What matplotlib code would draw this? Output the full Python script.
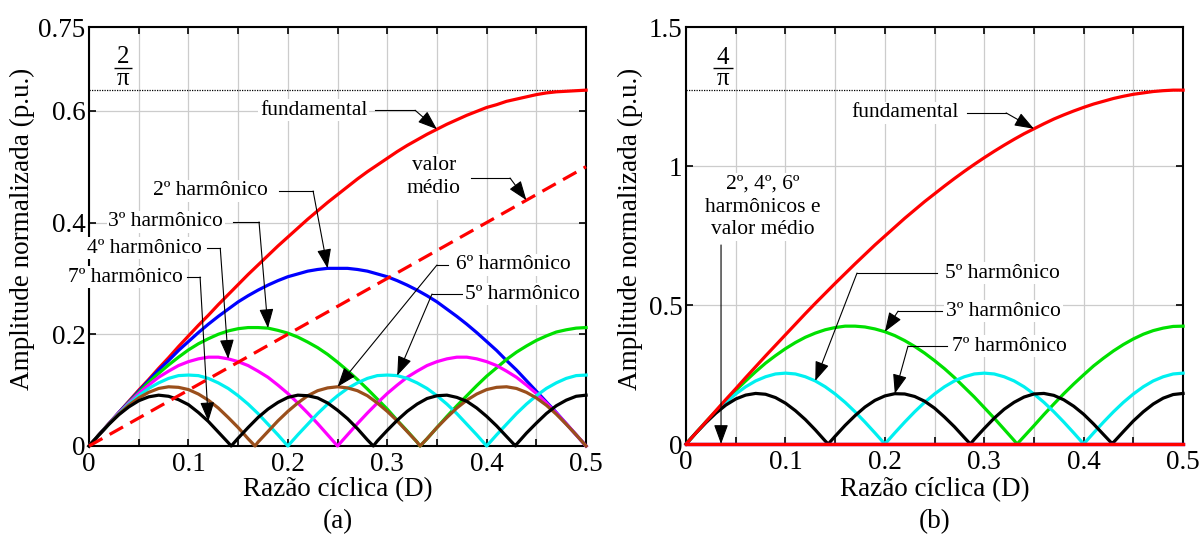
import numpy as np
import matplotlib
matplotlib.use("Agg")
import matplotlib.pyplot as plt
from matplotlib.ticker import MultipleLocator, FixedLocator

plt.rcParams['font.family'] = ['Liberation Serif', 'DejaVu Serif']
plt.rcParams['mathtext.fontset'] = 'stix'

# Duty ratio grid
D = [0.00, 0.01, 0.02, 0.03, 0.04, 0.05, 0.06, 0.07, 0.08, 0.09,
     0.10, 0.11, 0.12, 0.13, 0.14, 0.15, 0.16, 0.17, 0.18, 0.19,
     0.20, 0.21, 0.22, 0.23, 0.24, 0.25, 0.26, 0.27, 0.28, 0.29,
     0.30, 0.31, 0.32, 0.33, 0.34, 0.35, 0.36, 0.37, 0.38, 0.39,
     0.40, 0.41, 0.42, 0.43, 0.44, 0.45, 0.46, 0.47, 0.48, 0.49, 0.50]

# ---- (a) unipolar pulse train ----
FUND_A = [0.000, 0.020, 0.040, 0.060, 0.080, 0.100, 0.119, 0.139, 0.158, 0.178,
          0.197, 0.216, 0.234, 0.253, 0.271, 0.289, 0.307, 0.324, 0.341, 0.358,
          0.374, 0.390, 0.406, 0.421, 0.436, 0.450, 0.464, 0.478, 0.491, 0.503,
          0.515, 0.527, 0.538, 0.548, 0.558, 0.567, 0.576, 0.584, 0.592, 0.599,
          0.606, 0.611, 0.617, 0.621, 0.625, 0.629, 0.632, 0.634, 0.635, 0.636, 0.637]
H2_A = [0.000, 0.020, 0.040, 0.060, 0.079, 0.098, 0.117, 0.136, 0.153, 0.171,
        0.187, 0.203, 0.218, 0.232, 0.245, 0.258, 0.269, 0.279, 0.288, 0.296,
        0.303, 0.308, 0.313, 0.316, 0.318, 0.318, 0.318, 0.316, 0.313, 0.308,
        0.303, 0.296, 0.288, 0.279, 0.269, 0.258, 0.245, 0.232, 0.218, 0.203,
        0.187, 0.171, 0.153, 0.136, 0.117, 0.098, 0.079, 0.060, 0.040, 0.020, 0.000]
H3_A = [0.000, 0.020, 0.040, 0.059, 0.078, 0.096, 0.114, 0.130, 0.145, 0.159,
        0.172, 0.183, 0.192, 0.200, 0.206, 0.210, 0.212, 0.212, 0.211, 0.207,
        0.202, 0.195, 0.186, 0.176, 0.164, 0.150, 0.135, 0.119, 0.102, 0.084,
        0.066, 0.046, 0.027, 0.007, 0.013, 0.033, 0.053, 0.072, 0.090, 0.108,
        0.125, 0.140, 0.155, 0.168, 0.179, 0.189, 0.197, 0.204, 0.208, 0.211, 0.212]
H4_A = [0.000, 0.020, 0.040, 0.059, 0.077, 0.094, 0.109, 0.123, 0.134, 0.144,
        0.151, 0.156, 0.159, 0.159, 0.156, 0.151, 0.144, 0.134, 0.123, 0.109,
        0.094, 0.077, 0.059, 0.040, 0.020, 0.000, 0.020, 0.040, 0.059, 0.077,
        0.094, 0.109, 0.123, 0.134, 0.144, 0.151, 0.156, 0.159, 0.159, 0.156,
        0.151, 0.144, 0.134, 0.123, 0.109, 0.094, 0.077, 0.059, 0.040, 0.020, 0.000]
H5_A = [0.000, 0.020, 0.039, 0.058, 0.075, 0.090, 0.103, 0.113, 0.121, 0.126,
        0.127, 0.126, 0.121, 0.113, 0.103, 0.090, 0.075, 0.058, 0.039, 0.020,
        0.000, 0.020, 0.039, 0.058, 0.075, 0.090, 0.103, 0.113, 0.121, 0.126,
        0.127, 0.126, 0.121, 0.113, 0.103, 0.090, 0.075, 0.058, 0.039, 0.020,
        0.000, 0.020, 0.039, 0.058, 0.075, 0.090, 0.103, 0.113, 0.121, 0.126, 0.127]
H6_A = [0.000, 0.020, 0.039, 0.057, 0.073, 0.086, 0.096, 0.103, 0.106, 0.105,
        0.101, 0.093, 0.082, 0.068, 0.051, 0.033, 0.013, 0.007, 0.026, 0.045,
        0.062, 0.077, 0.090, 0.099, 0.104, 0.106, 0.104, 0.099, 0.090, 0.077,
        0.062, 0.045, 0.026, 0.007, 0.013, 0.033, 0.051, 0.068, 0.082, 0.093,
        0.101, 0.105, 0.106, 0.103, 0.096, 0.086, 0.073, 0.057, 0.039, 0.020, 0.000]
H7_A = [0.000, 0.020, 0.039, 0.056, 0.070, 0.081, 0.088, 0.091, 0.089, 0.083,
        0.074, 0.060, 0.044, 0.025, 0.006, 0.014, 0.033, 0.051, 0.066, 0.078,
        0.087, 0.091, 0.090, 0.086, 0.077, 0.064, 0.049, 0.031, 0.011, 0.009,
        0.028, 0.046, 0.062, 0.075, 0.085, 0.090, 0.091, 0.087, 0.080, 0.068,
        0.053, 0.036, 0.017, 0.003, 0.023, 0.041, 0.058, 0.072, 0.082, 0.089, 0.091]
MEAN_D = [0.0, 0.5]
MEAN_A = [0.0, 0.5]
LEVEL_A = 0.6366  # 2/pi

# Duty ratios where the harmonic amplitudes touch zero
ZEROS_H3 = [0.333]
ZEROS_H6 = [0.167, 0.333]
ZEROS_H7 = [0.143, 0.286, 0.429]

# ---- (b) bipolar pulse train ----
FUND_B = [0.000, 0.040, 0.080, 0.120, 0.160, 0.199, 0.239, 0.278, 0.317, 0.355,
          0.393, 0.431, 0.469, 0.506, 0.542, 0.578, 0.613, 0.648, 0.682, 0.716,
          0.748, 0.780, 0.812, 0.842, 0.872, 0.900, 0.928, 0.955, 0.981, 1.006,
          1.030, 1.053, 1.075, 1.096, 1.116, 1.134, 1.152, 1.169, 1.184, 1.198,
          1.211, 1.223, 1.233, 1.243, 1.251, 1.258, 1.263, 1.268, 1.271, 1.273, 1.273]
H3_B = [0.000, 0.040, 0.080, 0.118, 0.156, 0.193, 0.227, 0.260, 0.291, 0.318,
        0.343, 0.365, 0.384, 0.399, 0.411, 0.419, 0.424, 0.424, 0.421, 0.414,
        0.404, 0.390, 0.372, 0.351, 0.327, 0.300, 0.271, 0.239, 0.204, 0.169,
        0.131, 0.093, 0.053, 0.013, 0.027, 0.066, 0.106, 0.144, 0.181, 0.216,
        0.249, 0.281, 0.309, 0.335, 0.358, 0.378, 0.395, 0.408, 0.417, 0.423, 0.424]
H5_B = [0.000, 0.040, 0.079, 0.116, 0.150, 0.180, 0.206, 0.227, 0.242, 0.252,
        0.255, 0.252, 0.242, 0.227, 0.206, 0.180, 0.150, 0.116, 0.079, 0.040,
        0.000, 0.040, 0.079, 0.116, 0.150, 0.180, 0.206, 0.227, 0.242, 0.252,
        0.255, 0.252, 0.242, 0.227, 0.206, 0.180, 0.150, 0.116, 0.079, 0.040,
        0.000, 0.040, 0.079, 0.116, 0.150, 0.180, 0.206, 0.227, 0.242, 0.252, 0.255]
H7_B = [0.000, 0.040, 0.077, 0.111, 0.140, 0.162, 0.176, 0.182, 0.179, 0.167,
        0.147, 0.120, 0.088, 0.051, 0.011, 0.028, 0.067, 0.102, 0.133, 0.157,
        0.173, 0.181, 0.180, 0.171, 0.154, 0.129, 0.097, 0.062, 0.023, 0.017,
        0.056, 0.093, 0.125, 0.150, 0.169, 0.180, 0.182, 0.175, 0.159, 0.136,
        0.107, 0.072, 0.034, 0.006, 0.045, 0.083, 0.116, 0.144, 0.165, 0.178, 0.182]
EVEN_D = [0.0, 0.5]
EVEN_B = [0.0, 0.0]   # 2nd, 4th, 6th harmonics and mean value
LEVEL_B = 1.2732  # 4/pi

X_TICKS = [0.0, 0.1, 0.2, 0.3, 0.4, 0.5]
X_TICK_LABELS = ['0', '0.1', '0.2', '0.3', '0.4', '0.5']
Y_TICKS_A = [0.0, 0.2, 0.4, 0.6, 0.75]
Y_TICK_LABELS_A = ['0', '0.2', '0.4', '0.6', '0.75']
Y_TICKS_B = [0.0, 0.5, 1.0, 1.5]
Y_TICK_LABELS_B = ['0', '0.5', '1', '1.5']

RED = '#ff0000'
BLUE = '#0000ff'
GREEN = '#00e000'
MAGENTA = '#ff00ff'
CYAN = '#00f0f0'
BROWN = '#9a4f1c'
BLACK = '#000000'

LW = 2.3
TICK_FS = 19.5
NOTE_FS = 15.5


def with_zeros(d, v, zeros):
    x = np.concatenate([np.asarray(d, float), np.asarray(zeros, float)])
    y = np.concatenate([np.asarray(v, float), np.zeros(len(zeros))])
    order = np.argsort(x, kind='stable')
    return x[order], y[order]


def value_at(d, v, x):
    return float(np.asarray(v)[list(np.round(d, 2)).index(round(x, 2))])


def style_axes(ax, yticks, ylabels, ymax):
    ax.set_xlim(0, 0.5)
    ax.set_ylim(0, ymax)
    ax.xaxis.set_major_locator(FixedLocator(X_TICKS))
    ax.set_xticklabels(X_TICK_LABELS)
    ax.xaxis.set_minor_locator(MultipleLocator(0.05))
    ax.yaxis.set_major_locator(FixedLocator(yticks))
    ax.set_yticklabels(ylabels)
    ax.set_axisbelow(True)
    ax.grid(True, which='both', axis='x', color='#cccccc', lw=0.9)
    ax.grid(True, which='major', axis='y', color='#cccccc', lw=0.9)
    ax.tick_params(which='both', direction='in', top=True, right=True,
                   length=5, width=1.2, labelsize=TICK_FS)
    ax.tick_params(axis='y', pad=2.5)
    ax.tick_params(axis='x', pad=4)
    for sp in ax.spines.values():
        sp.set_linewidth(1.5)


def fraction(ax, num, xc, y_num, y_bar, y_den, half_w):
    """Stacked fraction 'num / pi' written with a plain bar."""
    ax.text(xc, y_num, num, ha='center', va='center', fontsize=18, zorder=6)
    ax.text(xc, y_den, 'π', ha='center', va='center', fontsize=18, zorder=6)
    ax.plot([xc - half_w, xc + half_w], [y_bar, y_bar], color='k', lw=1.0,
            solid_capstyle='butt', zorder=6)


def note(ax, text, pos, ha, start, corner, tip, linespacing=1.15):
    ax.text(pos[0], pos[1], text, ha=ha, va='center', fontsize=NOTE_FS,
            linespacing=linespacing, zorder=8, clip_on=False,
            bbox=dict(fc='white', ec='none', pad=1.2))
    if start is not None:
        ax.plot([start[0], corner[0]], [start[1], corner[1]], color='k',
                lw=0.8, zorder=7, clip_on=False)
    ax.annotate('', xy=tip, xytext=corner, zorder=7,
                arrowprops=dict(arrowstyle='-|>,head_length=0.6,head_width=0.22',
                                color='k', lw=0.8, shrinkA=0, shrinkB=0,
                                mutation_scale=20))


fig = plt.figure(figsize=(12, 5.34), dpi=100)
ax_a = fig.add_axes([0.0742, 0.1648, 0.4142, 0.7846])
ax_b = fig.add_axes([0.5717, 0.1685, 0.4142, 0.7809])

# ----- panel (a) -----
style_axes(ax_a, Y_TICKS_A, Y_TICK_LABELS_A, 0.75)
ax_a.hlines(LEVEL_A, 0, 0.5, colors='k', linestyles=(0, (1, 1)), lw=0.9, zorder=3)
ax_a.plot(D, FUND_A, color=RED, lw=LW, zorder=4, clip_on=False)
ax_a.plot(D, H2_A, color=BLUE, lw=LW, zorder=4, clip_on=False)
ax_a.plot(*with_zeros(D, H3_A, ZEROS_H3), color=GREEN, lw=LW, zorder=4, clip_on=False)
ax_a.plot(D, H4_A, color=MAGENTA, lw=LW, zorder=4, clip_on=False)
ax_a.plot(D, H5_A, color=CYAN, lw=LW, zorder=4, clip_on=False)
ax_a.plot(*with_zeros(D, H6_A, ZEROS_H6), color=BROWN, lw=LW, zorder=4, clip_on=False)
ax_a.plot(*with_zeros(D, H7_A, ZEROS_H7), color=BLACK, lw=LW, zorder=4, clip_on=False)
mean_line, = ax_a.plot(MEAN_D, MEAN_A, color=RED, lw=LW, zorder=5, clip_on=False)
mean_line.set_dashes([4.8, 2.6])

fraction(ax_a, '2', 0.0342, 0.697, 0.677, 0.657, 0.0095)

note(ax_a, 'fundamental', (0.280, 0.601), 'right',
     (0.288, 0.601), (0.328, 0.601), (0.35, value_at(D, FUND_A, 0.35)))
note(ax_a, 'valor\nmédio', (0.347, 0.4815), 'center',
     (0.384, 0.4797), (0.4235, 0.4797), (0.44, float(np.interp(0.44, MEAN_D, MEAN_A))),
     linespacing=1.3)
note(ax_a, '2º harmônico', (0.180, 0.4565), 'right',
     (0.191, 0.4565), (0.2254, 0.4565), (0.24, value_at(D, H2_A, 0.24)))
note(ax_a, '3º harmônico', (0.135, 0.401), 'right',
     (0.145, 0.401), (0.171, 0.401), (0.18, value_at(D, H3_A, 0.18)))
note(ax_a, '4º harmônico', (0.1137, 0.354), 'right',
     (0.119, 0.354), (0.132, 0.354), (0.14, value_at(D, H4_A, 0.14)))
note(ax_a, '7º harmônico', (0.0946, 0.3025), 'right',
     (0.0986, 0.3025), (0.1117, 0.3025), (0.12, value_at(D, H7_A, 0.12)))
note(ax_a, '6º harmônico', (0.3692, 0.324), 'left',
     (0.361, 0.324), (0.350, 0.324), (0.25, value_at(D, H6_A, 0.25)))
note(ax_a, '5º harmônico', (0.378, 0.272), 'left',
     (0.375, 0.272), (0.345, 0.272), (0.31, value_at(D, H5_A, 0.31)))

# ----- panel (b) -----
style_axes(ax_b, Y_TICKS_B, Y_TICK_LABELS_B, 1.5)
ax_b.hlines(LEVEL_B, 0, 0.5, colors='k', linestyles=(0, (1, 1)), lw=0.9, zorder=3)
ax_b.plot(*with_zeros(D, H3_B, ZEROS_H3), color=GREEN, lw=LW, zorder=4, clip_on=False)
ax_b.plot(D, H5_B, color=CYAN, lw=LW, zorder=4, clip_on=False)
ax_b.plot(*with_zeros(D, H7_B, ZEROS_H7), color=BLACK, lw=LW, zorder=4, clip_on=False)
ax_b.plot(D, FUND_B, color=RED, lw=LW, zorder=5, clip_on=False)
for c in (BLUE, MAGENTA, BROWN):
    ax_b.plot(EVEN_D, EVEN_B, color=c, lw=LW, zorder=5, clip_on=False)
ax_b.plot(EVEN_D, EVEN_B, color=RED, lw=LW, zorder=6, clip_on=False)

fraction(ax_b, '4', 0.0372, 1.390, 1.353, 1.312, 0.0100)

note(ax_b, 'fundamental', (0.2746, 1.191), 'right',
     (0.283, 1.191), (0.322, 1.191), (0.35, value_at(D, FUND_B, 0.35)))
note(ax_b, '2º, 4º, 6º\nharmônicos e\nvalor médio', (0.0775, 0.8525), 'center',
     None, (0.0352, 0.716), (0.0352, float(np.interp(0.0352, EVEN_D, EVEN_B))),
     linespacing=1.25)
note(ax_b, '5º harmônico', (0.2606, 0.615), 'left',
     (0.2525, 0.615), (0.172, 0.615), (0.13, value_at(D, H5_B, 0.13)))
note(ax_b, '3º harmônico', (0.2616, 0.478), 'left',
     (0.2575, 0.478), (0.2133, 0.478), (0.20, value_at(D, H3_B, 0.20)))
note(ax_b, '7º harmônico', (0.2676, 0.3525), 'left',
     (0.2626, 0.3525), (0.2233, 0.3525), (0.21, value_at(D, H7_B, 0.21)))

# axis titles and panel captions
for cx, ylx, tag in ((0.2813, 0.019, '(a)'), (0.7788, 0.525, '(b)')):
    fig.text(cx, 0.084, 'Razão cíclica (D)', ha='center', va='center', fontsize=TICK_FS)
    fig.text(cx, 0.024, tag, ha='center', va='center', fontsize=TICK_FS)
    fig.text(ylx, 0.571, 'Amplitude normalizada (p.u.)', rotation=90,
             ha='center', va='center', fontsize=TICK_FS)

fig.savefig('out.png', dpi=100)
